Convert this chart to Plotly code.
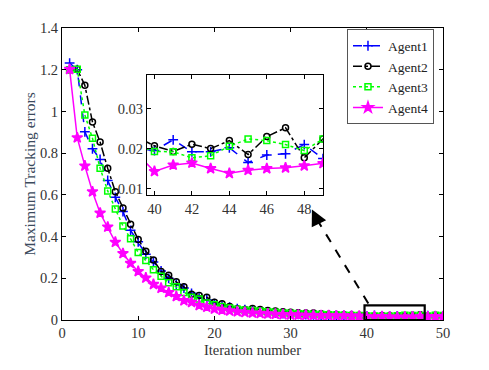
import plotly.graph_objects as go

# iteration axis
iters = list(range(1, 51))

agent1 = [1.232, 1.20, 0.902, 0.821, 0.770, 0.669, 0.588, 0.520, 0.430, 0.375,
          0.315, 0.278, 0.235, 0.200, 0.172, 0.153, 0.128, 0.105, 0.097, 0.078,
          0.070, 0.062, 0.055, 0.050, 0.044, 0.040, 0.037, 0.034, 0.031, 0.029,
          0.027, 0.026, 0.025, 0.024, 0.023, 0.022, 0.021, 0.021, 0.020, 0.0195,
          0.0222, 0.0192, 0.0192, 0.0202, 0.0165, 0.0184, 0.0187, 0.0210, 0.0175, 0.0172]
agent2 = [1.20, 1.202, 1.125, 0.949, 0.853, 0.727, 0.615, 0.537, 0.459, 0.386,
          0.330, 0.288, 0.233, 0.215, 0.183, 0.159, 0.124, 0.117, 0.109, 0.085,
          0.078, 0.065, 0.054, 0.050, 0.055, 0.050, 0.045, 0.043, 0.040, 0.037,
          0.035, 0.033, 0.033, 0.030, 0.028, 0.026, 0.025, 0.024, 0.023, 0.0207,
          0.0193, 0.0211, 0.0200, 0.0220, 0.0185, 0.0230, 0.0252, 0.0177, 0.0224, 0.0200]
agent3 = [1.20, 1.202, 0.983, 0.871, 0.728, 0.619, 0.532, 0.451, 0.389, 0.324,
          0.285, 0.241, 0.210, 0.179, 0.159, 0.132, 0.109, 0.101, 0.081, 0.073,
          0.065, 0.058, 0.052, 0.048, 0.046, 0.043, 0.040, 0.037, 0.034, 0.032,
          0.030, 0.029, 0.027, 0.026, 0.025, 0.024, 0.023, 0.022, 0.021, 0.0193,
          0.0192, 0.0177, 0.0182, 0.0206, 0.0224, 0.0220, 0.0210, 0.0195, 0.0224, 0.0210]
agent4 = [1.202, 0.874, 0.739, 0.615, 0.513, 0.446, 0.373, 0.319, 0.272, 0.233,
          0.202, 0.171, 0.153, 0.132, 0.113, 0.093, 0.085, 0.070, 0.062, 0.053,
          0.048, 0.044, 0.040, 0.037, 0.034, 0.032, 0.030, 0.028, 0.026, 0.025,
          0.024, 0.023, 0.022, 0.021, 0.021, 0.020, 0.020, 0.019, 0.019, 0.0143,
          0.0159, 0.0164, 0.0150, 0.0138, 0.0146, 0.0150, 0.0152, 0.0157, 0.0163, 0.0165]

names = ["Agent1", "Agent2", "Agent3", "Agent4"]
series = [agent1, agent2, agent3, agent4]

styles = [
    dict(color="#0000ff", dash="dash", symbol="cross-thin-open", size=7),
    dict(color="#000000", dash="dashdot", symbol="circle-open", size=6),
    dict(color="#00ff00", dash="dot", symbol="square-open", size=6),
    dict(color="#ff00ff", dash="solid", symbol="star", size=8),
]

font = "Liberation Serif"

fig = go.Figure()

for name, ys, st in zip(names, series, styles):
    for axx, axy, show in [("x", "y", True), ("x2", "y2", False)]:
        fig.add_trace(go.Scatter(
            x=iters, y=ys, name=name, mode="lines+markers",
            xaxis=axx, yaxis=axy, showlegend=show,
            line=dict(color=st["color"], dash=st["dash"], width=1.5),
            marker=dict(symbol=st["symbol"], size=st["size"], color=st["color"],
                        line=dict(color=st["color"], width=1.5)),
        ))

axis_common = dict(showline=True, linecolor="black", linewidth=1, mirror="ticks",
                   ticks="inside", ticklen=4, tickcolor="black", showgrid=False,
                   zeroline=False,
                   tickfont=dict(family=font, size=14.5, color="#333333"))

# the page puts the plot 8px in from the top left corner
fig.update_layout(
    width=489, height=370,
    margin=dict(l=54, r=54, t=12, b=58),
    paper_bgcolor="white", plot_bgcolor="white",
    font=dict(family=font, size=14, color="#333333"),
    xaxis=dict(range=[0, 50], dtick=10, domain=[0, 1],
               title=dict(text="Iteration number", standoff=4,
                          font=dict(family=font, size=14.5)), **axis_common),
    yaxis=dict(range=[0, 1.4], dtick=0.2, domain=[0, 1],
               title=dict(text="Maximum Tracking errors", standoff=0,
                          font=dict(family=font, size=15.5, color="#3b4a5c")),
               **axis_common),
    xaxis2=dict(range=[39.6, 49], dtick=2, tick0=40, domain=[0.223, 0.685],
                anchor="y2", **axis_common),
    yaxis2=dict(range=[0.0083, 0.0385], tickvals=[0.01, 0.02, 0.03],
                domain=[0.427, 0.84], anchor="x2", **axis_common),
    legend=dict(x=0.748, y=0.995, xanchor="left", yanchor="top",
                bgcolor="white", bordercolor="#555555", borderwidth=1,
                font=dict(family=font, size=13.5, color="#222222"),
                tracegroupgap=0, itemwidth=30),
    showlegend=True,
)

# zoom box and pointer
fig.add_shape(type="rect", xref="x", yref="y", x0=39.7, x1=47.6, y0=0, y1=0.07,
              line=dict(color="black", width=2.2))
fig.add_shape(type="line", xref="x", yref="y", x0=40.2, y0=0.079, x1=33.5, y1=0.48,
              line=dict(color="black", width=2, dash="dash"))
fig.add_annotation(x=32.8, y=0.53, ax=33.6, ay=0.47, xref="x", yref="y",
                   axref="x", ayref="y", showarrow=True, arrowhead=2,
                   arrowsize=1.6, arrowwidth=2, arrowcolor="black", text="")

fig.write_html("out.html")
